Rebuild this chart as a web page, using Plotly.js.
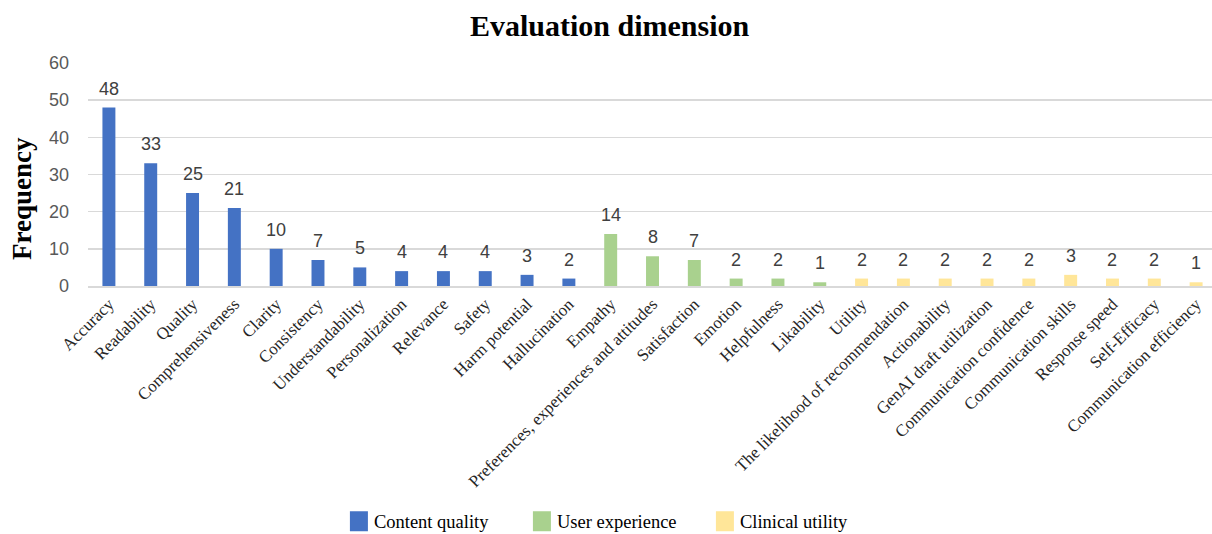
<!DOCTYPE html>
<html><head><meta charset="utf-8">
<script src="https://cdn.plot.ly/plotly-3.0.1.min.js"></script>
<style>html,body{margin:0;padding:0;background:#fff}#chart{width:1212px;height:534px}</style>
</head><body><div id="chart"></div>
<script>
const contentCats = ["Accuracy","Readability","Quality","Comprehensiveness","Clarity","Consistency","Understandability","Personalization","Relevance","Safety","Harm potential","Hallucination"];
const contentVals = [48,33,25,21,10,7,5,4,4,4,3,2];
const userCats = ["Empathy","Preferences, experiences and attitudes","Satisfaction","Emotion","Helpfulness","Likability"];
const userVals = [14,8,7,2,2,1];
const clinicalCats = ["Utility","The likelihood of recommendation","Actionability","GenAI draft utilization","Communication confidence","Communication skills","Response speed","Self-Efficacy","Communication efficiency"];
const clinicalVals = [2,2,2,2,2,3,2,2,1];
const yTicks = [0,10,20,30,40,50,60];

const allCats = contentCats.concat(userCats, clinicalCats);
const allVals = contentVals.concat(userVals, clinicalVals);
function tr(name, x, y, color){
  return {type:'bar', name:name, x:x, y:y, marker:{color:color},
    width:0.31, hoverinfo:'x+y'};
}
const data = [
  tr('Content quality', contentCats, contentVals, '#4472C4'),
  tr('User experience', userCats, userVals, '#A9D18E'),
  tr('Clinical utility', clinicalCats, clinicalVals, '#FFE699')
];
const annotations = allCats.map((c,i)=>({x:c, y:allVals[i], xref:'x', yref:'y', text:String(allVals[i]),
  showarrow:false, yanchor:'bottom', yshift:7,
  font:{family:'Liberation Sans, Arial, sans-serif', size:18, color:'#404040'}}));
annotations.push({text:'<b>Frequency</b>', xref:'paper', yref:'paper', x:-0.0587, y:0.39,
  xanchor:'center', yanchor:'middle', textangle:-90, showarrow:false,
  font:{family:'Liberation Serif, Times New Roman, serif', size:27, color:'#000'}});
const layout = {
  width:1212, height:534,
  margin:{l:88, r:0, t:63, b:248, autoexpand:false},
  paper_bgcolor:'#fff', plot_bgcolor:'#fff',
  barmode:'overlay',
  annotations:annotations,
  title:{text:'<b>Evaluation dimension</b>', x:0.503, xanchor:'center', y:0.953, yanchor:'middle',
    font:{family:'Liberation Serif, Times New Roman, serif', size:30, color:'#000'}},
  xaxis:{type:'category', categoryorder:'array', categoryarray:allCats, automargin:false,
    range:[-0.5, 26.38], tickangle:-45, showgrid:false, ticks:'',
    showline:true, linecolor:'#d9d9d9', linewidth:1.5,
    tickfont:{family:'Liberation Serif, Times New Roman, serif', size:17, color:'#262626'}},
  yaxis:{range:[0,60], tickvals:yTicks, showgrid:true, gridcolor:'#d9d9d9', gridwidth:1.5,
    zeroline:false, ticks:'', ticklen:0, ticklabelstandoff:18, automargin:false,
    tickfont:{family:'Liberation Sans, Arial, sans-serif', size:18, color:'#595959'}},
  showlegend:true,
  legend:{orientation:'h', x:0.463, xanchor:'center', yref:'container', y:0.023, yanchor:'middle',
    font:{family:'Liberation Serif, Times New Roman, serif', size:18.5, color:'#000'},
    itemwidth:30, tracegroupgap:0, entrywidth:138, entrywidthmode:'pixels'}
};
Plotly.newPlot('chart', data, layout, {displayModeBar:false, staticPlot:true}).then(gd=>{
  gd.querySelectorAll('.legend .legendpoints path').forEach(p=>{
    p.setAttribute('d','M-4,-10H14V10H-4Z');
  });
});
</script></body></html>
